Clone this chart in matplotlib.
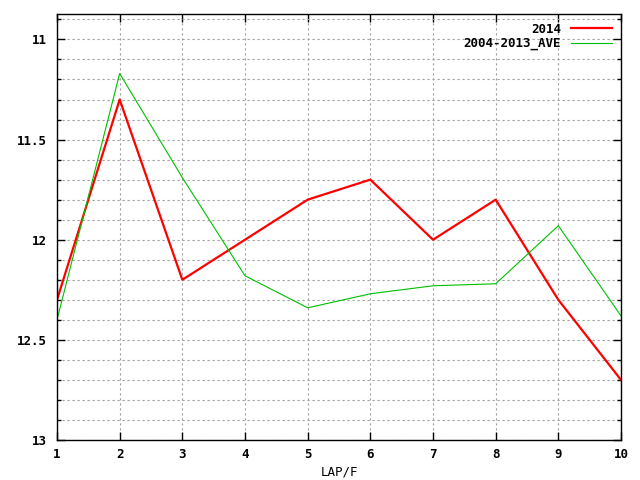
import numpy as np
import matplotlib.pyplot as plt
from matplotlib.ticker import MultipleLocator

# ------ datos ------
vueltas = [1, 2, 3, 4, 5, 6, 7, 8, 9, 10]
tiempos_2014 = [12.3, 11.3, 12.2, 12.0, 11.8, 11.7, 12.0, 11.8, 12.3, 12.7]
tiempos_ave = [12.40, 11.17, 11.69, 12.18, 12.34, 12.27, 12.23, 12.22, 11.93, 12.38]

plt.rcParams['font.family'] = 'DejaVu Sans Mono'
plt.rcParams['font.weight'] = 'bold'
plt.rcParams['font.size'] = 9

fig = plt.figure(figsize=(6.4, 4.8), dpi=100)
ax = fig.add_axes([57/640, 1 - 440/480, (621 - 57)/640, (440 - 14)/480])

ax.plot(vueltas, tiempos_2014, color='#ff0000', linewidth=1.6, label='2014')
ax.plot(vueltas, tiempos_ave, color='#00c000', linewidth=0.8, label='2004-2013_AVE')

ax.set_xlim(1, 10)
ax.set_ylim(13, 10.873)
ax.xaxis.set_major_locator(MultipleLocator(1))
ax.yaxis.set_major_locator(MultipleLocator(0.5))
ax.yaxis.set_minor_locator(MultipleLocator(0.1))
ax.yaxis.set_major_formatter(plt.FuncFormatter(lambda v, p: '{:g}'.format(v)))

ax.tick_params(which='both', direction='in', top=True, right=True, width=1)
ax.tick_params(which='major', length=6, pad=7)
ax.tick_params(axis='x', which='major', pad=6)
ax.tick_params(which='minor', length=3)

grid_style = dict(color='#a0a0a0', linestyle=(0, (2, 2.5)), linewidth=0.8)
ax.grid(True, which='major', axis='both', **grid_style)
ax.grid(True, which='minor', axis='y', **grid_style)

for s in ax.spines.values():
    s.set_linewidth(1)

ax.set_xlabel('LAP/F', labelpad=3)
ax.legend(loc='upper right', frameon=False, markerfirst=False, handlelength=3.3,
          borderaxespad=0.3, labelspacing=0.1)

plt.savefig('out.png')
